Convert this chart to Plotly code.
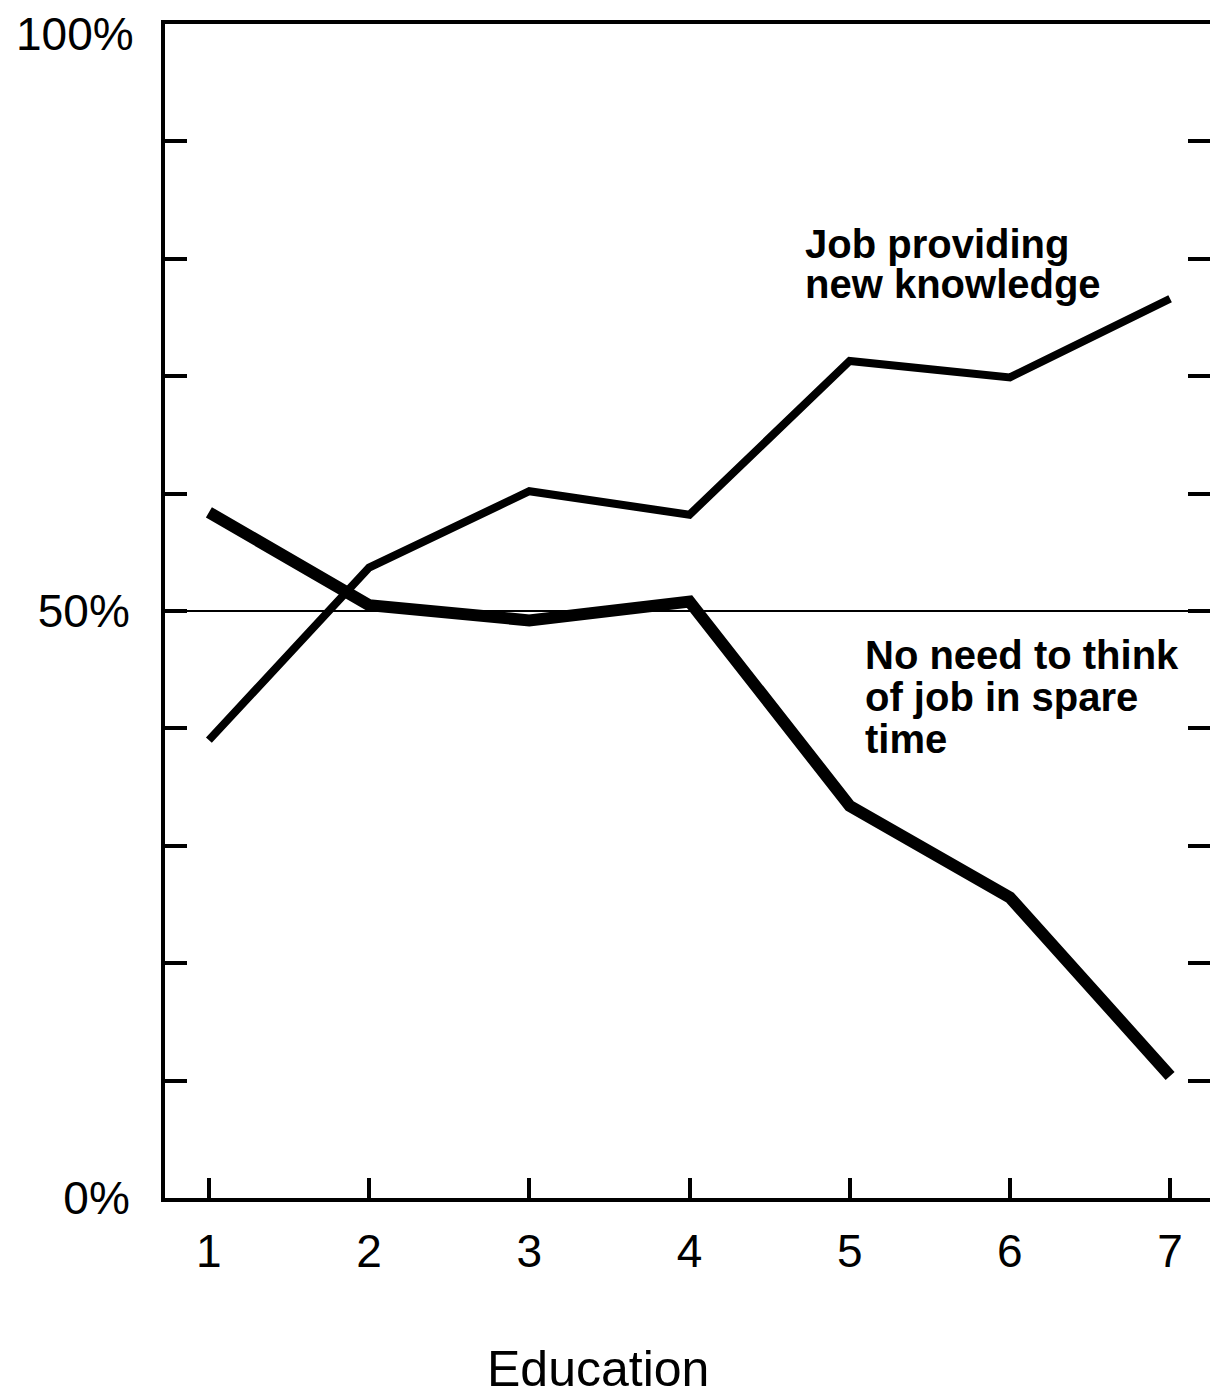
import plotly.graph_objects as go

education = [1, 2, 3, 4, 5, 6, 7]
job_new_knowledge = [39.0, 53.7, 60.2, 58.2, 71.3, 69.9, 76.6]
no_need_think = [58.4, 50.5, 49.2, 50.8, 33.4, 25.6, 10.4]
y_tick_vals = [0, 10, 20, 30, 40, 50, 60, 70, 80, 90, 100]
y_tick_text = ["0%", "", "", "", "", "50%", "", "", "", "", ""]
x_tick_text = ["1", "2", "3", "4", "5", "6", "7"]

FONT = "Liberation Sans, Arial, Helvetica, sans-serif"
OFF = 8  # page body margin

# figure size (fits inside 1218x1397 window after the page margin)
W, H = 1210, 1389
L, R, T, B = 157, 8, 16, 199
pw, ph = W - L - R, H - T - B


def to_paper(sx, sy):
    """screen pixel -> paper coords"""
    fx, fy = sx - OFF, sy - OFF
    return (fx - L) / pw, 1 - (fy - T) / ph


fig = go.Figure()
fig.add_trace(go.Scatter(x=education, y=job_new_knowledge, mode="lines",
                         line=dict(color="black", width=8), name="Job providing new knowledge",
                         showlegend=False))
fig.add_trace(go.Scatter(x=education, y=no_need_think, mode="lines",
                         line=dict(color="black", width=12), name="No need to think of job in spare time",
                         showlegend=False))

# 50% reference line
fig.add_shape(type="line", xref="paper", x0=0, x1=1, yref="y", y0=50, y1=50,
              line=dict(color="black", width=2))

ann_font = dict(family=FONT, size=40, color="black")
job_lines = ["<b>Job providing</b>", "<b>new knowledge</b>"]
for i, t in enumerate(job_lines):
    px, py = to_paper(803, 244 + i * 40)
    fig.add_annotation(x=px, y=py, xref="paper", yref="paper", text=t,
                       showarrow=False, font=ann_font, xanchor="left", yanchor="middle")
need_lines = ["<b>No need to think</b>", "<b>of job in spare</b>", "<b>time</b>"]
for i, t in enumerate(need_lines):
    px, py = to_paper(863, 655 + i * 42)
    fig.add_annotation(x=px, y=py, xref="paper", yref="paper", text=t,
                       showarrow=False, font=ann_font, xanchor="left", yanchor="middle")

px, py = to_paper(598, 1369)
fig.add_annotation(x=px, y=py, xref="paper", yref="paper", text="Education", showarrow=False,
                   font=dict(family=FONT, size=50, color="black"),
                   xanchor="center", yanchor="middle")

px, py = to_paper(136, 34)
fig.add_annotation(x=px, y=py, xref="paper", yref="paper", text="100%", showarrow=False,
                   font=dict(family=FONT, size=46, color="black"),
                   xanchor="right", yanchor="middle")

fig.update_layout(
    width=W, height=H,
    margin=dict(l=L, r=R, t=T, b=B, autoexpand=False),
    plot_bgcolor="white", paper_bgcolor="white",
    font=dict(family=FONT, color="black"),
    xaxis=dict(range=[0.726, 7.249], tickvals=education, ticktext=x_tick_text,
               ticks="inside", ticklen=20, tickwidth=4, tickcolor="black",
               showline=True, linewidth=4, linecolor="black", mirror=True,
               showgrid=False, zeroline=False, automargin=False,
               tickfont=dict(family=FONT, size=46, color="black"),
               ticklabelstandoff=10),
    yaxis=dict(range=[0, 100], tickvals=y_tick_vals, ticktext=y_tick_text,
               ticks="inside", ticklen=22, tickwidth=4, tickcolor="black",
               showline=True, linewidth=4, linecolor="black", mirror="ticks",
               showgrid=False, zeroline=False, automargin=False,
               tickfont=dict(family=FONT, size=46, color="black"),
               ticklabelstandoff=22),
)

fig.write_html("out.html")
